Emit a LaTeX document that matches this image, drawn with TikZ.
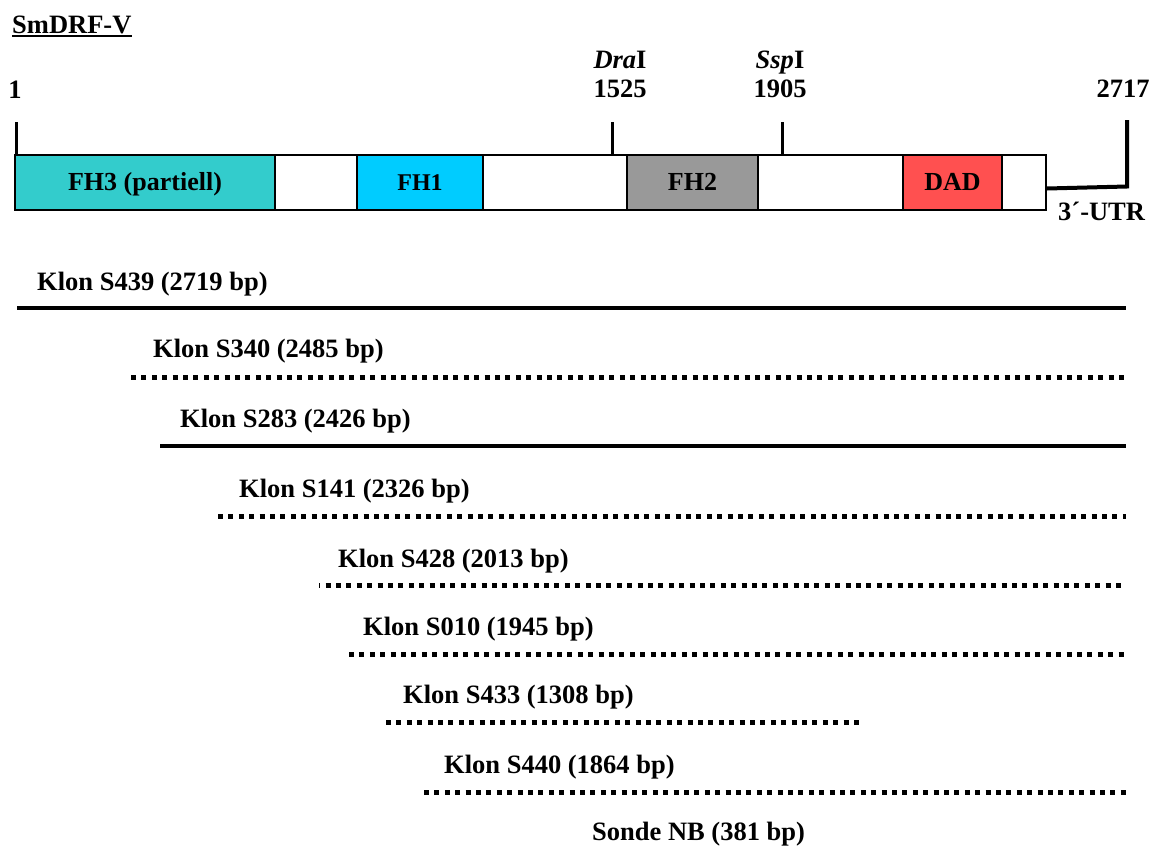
\documentclass[tikz,border=0pt]{standalone}
\usepackage{fontspec}
\setmainfont{Liberation Serif}
\definecolor{fhthree}{HTML}{33CCCC}
\definecolor{fhone}{HTML}{00CCFF}
\definecolor{fhtwo}{HTML}{999999}
\definecolor{dadred}{HTML}{FF5050}
\tikzset{
  seg/.style={draw=black, line width=2pt, inner sep=0pt, minimum height=55pt,
    text height=17pt, text depth=0pt, font=\fontsize{26}{30}\selectfont\bfseries},
  lbl/.style={inner sep=0pt, font=\fontsize{26.5}{30}\selectfont\bfseries},
  tickline/.style={line width=3pt},
  solidclone/.style={line width=4.8pt},
  dotclone/.style={line width=5pt, dash pattern=on 5pt off 5.4pt},
}
\begin{document}
\begin{tikzpicture}[x=1pt,y=-1pt]
\useasboundingbox (0,0) rectangle (1154,852);
% title
\node[lbl, anchor=base west] (title) at (12,33) {SmDRF-V};
\draw[line width=2pt] ([yshift=-3pt]title.base west) -- ([yshift=-3pt]title.base east);
% position labels
\node[lbl, anchor=base] (p1) at (15,98) {1};
\node[lbl, anchor=base] (dra) at (620,68) {\textit{Dra}I};
\node[lbl, anchor=base] (p1525) at (620,97) {1525};
\node[lbl, anchor=base] (ssp) at (780,68) {\textit{Ssp}I};
\node[lbl, anchor=base] (p1905) at (780,97) {1905};
\node[lbl, anchor=base] (p2717) at (1123,97) {2717};
% domain bar
\node[seg, fill=fhthree, minimum width=260pt] (fh3) at (145,182) {FH3 (partiell)};
\node[seg, fill=white, minimum width=82pt] (w1) at (316,182) {};
\node[seg, fill=fhone, minimum width=126pt, font=\fontsize{24}{28}\selectfont\bfseries] (fh1) at (420,182) {FH1};
\node[seg, fill=white, minimum width=144pt] (w2) at (555,182) {};
\node[seg, fill=fhtwo, minimum width=131pt] (fh2) at (692.5,182) {FH2};
\node[seg, fill=white, minimum width=145pt] (w3) at (830.5,182) {};
\node[seg, fill=dadred, minimum width=99pt] (dad) at (952.5,182) {DAD};
\node[seg, fill=white, minimum width=44pt] (w4) at (1024,182) {};
% ticks
\coordinate (t1) at (16,122);
\coordinate (tdra) at (612,122);
\coordinate (tssp) at (782,122);
\draw[tickline] (t1) -- (t1 |- fh3.north);
\draw[tickline] (tdra) -- (tdra |- w2.north);
\draw[tickline] (tssp) -- (tssp |- w3.north);
% 3'-UTR
\coordinate (utrA) at (1047,188.5);
\coordinate (utrB) at (1127,186.5);
\coordinate (utrC) at (1127,120);
\draw[line width=4pt, line join=miter] (utrA) -- (utrB) -- (utrC);
\node[lbl, anchor=base west] (utr) at (1058,220) {3´-UTR};
% clones
\node[lbl, anchor=base west] (k439) at (37,290) {Klon S439 (2719 bp)};
\coordinate (a439) at (17,308); \coordinate (b439) at (1126,308);
\draw[solidclone] (a439) -- (b439);
\node[lbl, anchor=base west] (k340) at (153,357) {Klon S340 (2485 bp)};
\coordinate (a340) at (131,377); \coordinate (b340) at (1126,377);
\draw[dotclone] (a340) -- (b340);
\node[lbl, anchor=base west] (k283) at (180,427) {Klon S283 (2426 bp)};
\coordinate (a283) at (160,446); \coordinate (b283) at (1126,446);
\draw[solidclone] (a283) -- (b283);
\node[lbl, anchor=base west] (k141) at (239,497) {Klon S141 (2326 bp)};
\coordinate (a141) at (218,516); \coordinate (b141) at (1126,516);
\draw[dotclone] (a141) -- (b141);
\node[lbl, anchor=base west] (k428) at (338,567) {Klon S428 (2013 bp)};
\coordinate (a428) at (319,585); \coordinate (b428) at (1126,585);
\draw[dotclone, dash phase=3.8pt] (a428) -- (b428);
\node[lbl, anchor=base west] (k010) at (363,635) {Klon S010 (1945 bp)};
\coordinate (a010) at (349,654); \coordinate (b010) at (1126,654);
\draw[dotclone] (a010) -- (b010);
\node[lbl, anchor=base west] (k433) at (403,703) {Klon S433 (1308 bp)};
\coordinate (a433) at (386,722); \coordinate (b433) at (860,722);
\draw[dotclone] (a433) -- (b433);
\node[lbl, anchor=base west] (k440) at (444,773) {Klon S440 (1864 bp)};
\coordinate (a440) at (424,792); \coordinate (b440) at (1126,792);
\draw[dotclone] (a440) -- (b440);
\node[lbl, anchor=base west] (sonde) at (592,840) {Sonde NB (381 bp)};
\end{tikzpicture}
\end{document}
